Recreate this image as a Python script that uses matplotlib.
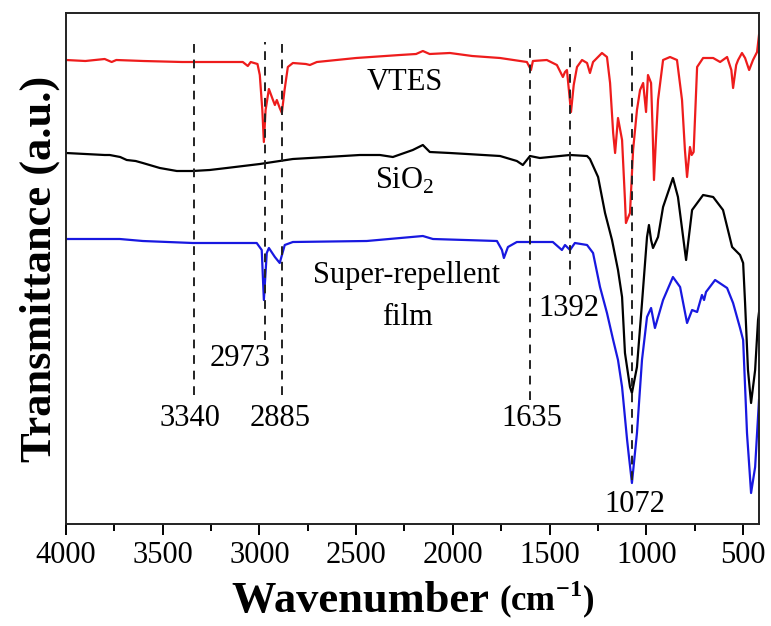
import matplotlib
matplotlib.use("Agg")
import matplotlib.pyplot as plt
from matplotlib.ticker import MultipleLocator

plt.rcParams['font.family'] = ['Liberation Serif', 'DejaVu Serif']
plt.rcParams['mathtext.fontset'] = 'custom'
plt.rcParams['mathtext.rm'] = 'Liberation Serif'
plt.rcParams['mathtext.bf'] = 'Liberation Serif:bold'

# ---- data (wavenumber cm^-1, transmittance a.u.) ----
vtes_wn = [4000, 3900, 3800, 3764, 3740, 3600, 3400, 3200, 3086, 3060, 3045, 3010, 2998, 2985, 2977,
           2968, 2951, 2930, 2920, 2910, 2895, 2884, 2870, 2853, 2827, 2760, 2739, 2703, 2500, 2274,
           2190, 2155, 2120, 2015, 1900, 1756, 1617, 1596, 1586, 1514, 1462, 1431, 1420, 1410, 1400,
           1389, 1375, 1358, 1332, 1306, 1291, 1275, 1229, 1203, 1187, 1171, 1161, 1146, 1125, 1110,
           1105, 1095, 1084, 1068, 1048, 1032, 1016, 1001, 991, 975, 967, 960, 950, 939, 913, 877,
           841, 815, 800, 789, 774, 765, 755, 737, 706, 654, 618, 582, 560, 551, 535, 525, 505, 489,
           468, 448, 427, 417]
vtes_t = [464, 463, 465, 462, 464, 463, 462, 462, 462, 458, 462, 460, 449, 414, 382,
          414, 435, 424, 419, 424, 416, 411, 434, 457, 461, 460, 459, 462, 466, 469,
          470, 473, 470, 471, 468, 466, 462, 454, 463, 464, 459, 447, 452, 454, 434,
          412, 439, 457, 464, 461, 451, 462, 471, 467, 441, 391, 371, 406, 384, 324,
          301, 306, 311, 374, 414, 434, 441, 412, 449, 441, 394, 344, 384, 424, 464, 467,
          464, 424, 374, 347, 377, 369, 372, 457, 466, 466, 462, 467, 454, 436, 459, 464, 471, 466,
          454, 464, 472, 489]

sio2_wn = [4000, 3900, 3800, 3774, 3720, 3686, 3640, 3603, 3515, 3427, 3345, 3257, 3169, 2998, 2827,
           2651, 2481, 2377, 2310, 2207, 2155, 2119, 2015, 1927, 1756, 1669, 1638, 1601, 1550, 1394,
           1306, 1291, 1249, 1213, 1177, 1146, 1125, 1110, 1084, 1074, 1048, 1022, 996, 986, 975,
           965, 939, 913, 862, 836, 794, 763, 706, 654, 603, 556, 515, 499, 489, 474, 458, 437, 422, 411]
sio2_t = [371, 370, 369, 369, 367, 364, 363, 361, 356, 353, 353, 354, 356, 360, 365,
          367, 369, 369, 367, 374, 379, 372, 371, 370, 368, 363, 359, 368, 366, 369,
          368, 365, 347, 311, 284, 254, 227, 171, 137, 131, 157, 221, 287, 299, 284,
          276, 287, 317, 346, 327, 264, 314, 329, 327, 314, 277, 269, 261, 221, 154, 121, 154, 204, 221]

film_wn = [4000, 3722, 3603, 3345, 3014, 2988, 2977, 2962, 2951, 2920, 2895, 2869, 2827, 2445, 2155,
           2103, 1772, 1746, 1736, 1715, 1669, 1483, 1436, 1420, 1394, 1369, 1306, 1275, 1239, 1203,
           1171, 1146, 1125, 1099, 1074, 1048, 1022, 996, 975, 955, 913, 862, 825, 789, 763, 737,
           712, 701, 691, 644, 582, 551, 515, 499, 479, 458, 437, 417]
film_t = [285, 285, 283, 281, 281, 274, 224, 271, 276, 267, 261, 279, 282, 283, 288,
          285, 283, 274, 266, 277, 282, 282, 274, 279, 274, 281, 279, 271, 237, 211,
          184, 164, 137, 84, 41, 91, 164, 207, 216, 196, 224, 247, 237, 201, 214, 212,
          229, 224, 232, 244, 236, 221, 196, 184, 91, 31, 57, 124]

# reference lines: position, top, bottom, label text, label position
peak_pos = [3340, 2973, 2885, 1600, 1392, 1072]
peak_top = [482, 482, 482, 477, 477, 477]
peak_bottom = [129, 184, 129, 124, 239, 44]
peak_labels = ['3340', '2973', '2885', '1635', '1392', '1072']
label_x = [3360, 3101, 2894, 1591, 1400, 1060]
label_y = [106, 165, 106, 106, 215, 19]

series_names = ['VTES', 'SiO$_\\mathregular{2}$', 'Super-repellent\nfilm']

fig = plt.figure(figsize=(7.71, 6.26), dpi=100)
ax = fig.add_axes([66/771, (626-524)/626, (759-66)/771, (524-13)/626])

ax.plot(vtes_wn, vtes_t, color='#ee1c1c', lw=1.6, solid_joinstyle='round')
ax.plot(sio2_wn, sio2_t, color='black', lw=1.6, solid_joinstyle='round')
ax.plot(film_wn, film_t, color='#1818e0', lw=1.6, solid_joinstyle='round')

for p, t, b in zip(peak_pos, peak_top, peak_bottom):
    ax.plot([p, p], [b, t], color='#222222', lw=1.4, ls=(0, (4.5, 3.5)))

for lab, lx, ly in zip(peak_labels, label_x, label_y):
    ax.text(lx, ly, lab, fontsize=22, ha='center', va='center')

ax.text(2248, 434, series_names[0], fontsize=22, ha='center', va='baseline')
ax.text(2248, 335, series_names[1], fontsize=22, ha='center', va='baseline')
ax.text(2237, 241, 'Super-repellent', fontsize=22, ha='center', va='baseline')
ax.text(2232, 199, 'film', fontsize=22, ha='center', va='baseline')

ax.set_xlim(4000, 417)
ax.set_ylim(0, 511)
ax.xaxis.set_major_locator(MultipleLocator(500))
ax.xaxis.set_minor_locator(MultipleLocator(250))
ax.set_yticks([])
ax.tick_params(axis='x', which='major', direction='out', length=8, width=1.4, labelsize=22, pad=4)
ax.tick_params(axis='x', which='minor', direction='out', length=5, width=1.4)
for s in ax.spines.values():
    s.set_linewidth(1.4)
    s.set_color('#222222')

ax.set_ylabel('Transmittance (a.u.)', fontsize=32, fontweight='bold', labelpad=4)
t1 = fig.text(0.0, 0.0, 'Wavenumber ', fontsize=32, fontweight='bold', ha='left', va='baseline')
fig.canvas.draw()
r = fig.canvas.get_renderer()
t2 = ax.annotate('(cm$^\\mathbf{-1}$)', xy=(1, 0), xycoords=t1, fontsize=25, fontweight='bold',
                 ha='left', va='bottom')
fig.canvas.draw()
w1 = t1.get_window_extent(r).width
w2 = t2.get_window_extent(r).width
cx = 413
t1.set_position(((cx - (w1 + w2) / 2) / 771, (626 - 612) / 626))

fig.savefig('out.png', dpi=100)
